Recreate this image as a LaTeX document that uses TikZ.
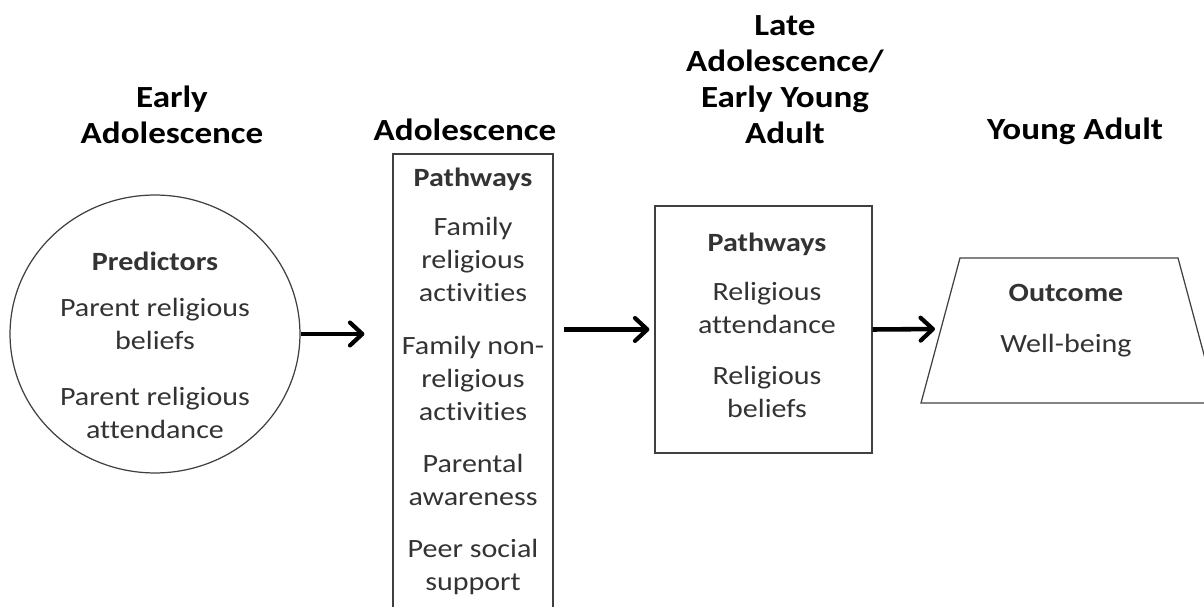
\documentclass[tikz,border=0pt]{standalone}
\usepackage{fontspec}
\setmainfont{Carlito}[FakeStretch=1.14, Ligatures={NoCommon}]
\usetikzlibrary{arrows.meta,shapes.geometric}

\tikzset{
  stage/.style    = {font=\fontsize{17.5}{20.5}\selectfont\bfseries, align=center, anchor=north, inner sep=0pt},
  item/.style     = {font=\fontsize{15}{18.8}\selectfont, text=black!80, align=center, anchor=north, inner sep=0pt},
  frame/.style    = {draw=black!75, line width=0.7pt},
  flow/.style     = {line width=2.6pt, -{Straight Barb[length=7pt,width=13pt,line width=2.4pt,round]}}
}

\begin{document}
\begin{tikzpicture}[x=0.02cm, y=-0.02cm]

        \path [use as bounding box, clip] (0,0) rectangle (1204,607);

        %Early adolescence
        \node [stage] (tearly) at (172,86)  {Early\\Adolescence};
        \node [frame, ellipse, minimum width=5.8cm, minimum height=5.56cm] (pred) at (155,334) {};
        \node [item] (predtxt) at (155,252)
              {\textbf{Predictors}\\[7pt]Parent religious\\beliefs\\[13pt]Parent religious\\attendance};

        %Adolescence
        \node [stage] (tadol) at (465,119)  {Adolescence};
        \node [frame, rectangle, minimum width=3.2cm, minimum height=10.92cm] (adol) at (473,427) {};
        \node [item] (adoltxt) at (473,168)
              {\textbf{Pathways}\\[9pt]Family\\religious\\activities\\[11pt]Family non-\\religious\\activities\\[11pt]Parental\\awareness\\[11pt]Peer social\\support};

        %Late adolescence / early young adult
        \node [stage] (tlate) at (785,15)   {Late\\Adolescence/\\Early Young\\Adult};
        \node [frame, rectangle, minimum width=4.34cm, minimum height=4.94cm] (late) at (763.5,329.5) {};
        \node [item] (latetxt) at (767,233)
              {\textbf{Pathways}\\[9pt]Religious\\attendance\\[10pt]Religious\\beliefs};

        %Young adult
        \node [stage] (tyoung) at (1075,118) {Young Adult};
        \draw [frame] (960,258) -- (1178,258) -- (1217,403) -- (921,403) -- cycle;
        \coordinate (outw) at (941,329);
        \node [item] (outtxt) at (1066,284) {\textbf{Outcome}\\[10pt]Well-being};

        %Flow between stages
        \draw [flow, shorten >=0.56cm]                 (pred.east)  -- (pred.east -| adol.west);
        \draw [flow, shorten <=0.2cm, shorten >=0.1cm] (adol.east |- late.west) -- (late.west);
        \draw [flow, shorten >=0.12cm]                 (late.east)  -- (outw);

\end{tikzpicture}
\end{document}
